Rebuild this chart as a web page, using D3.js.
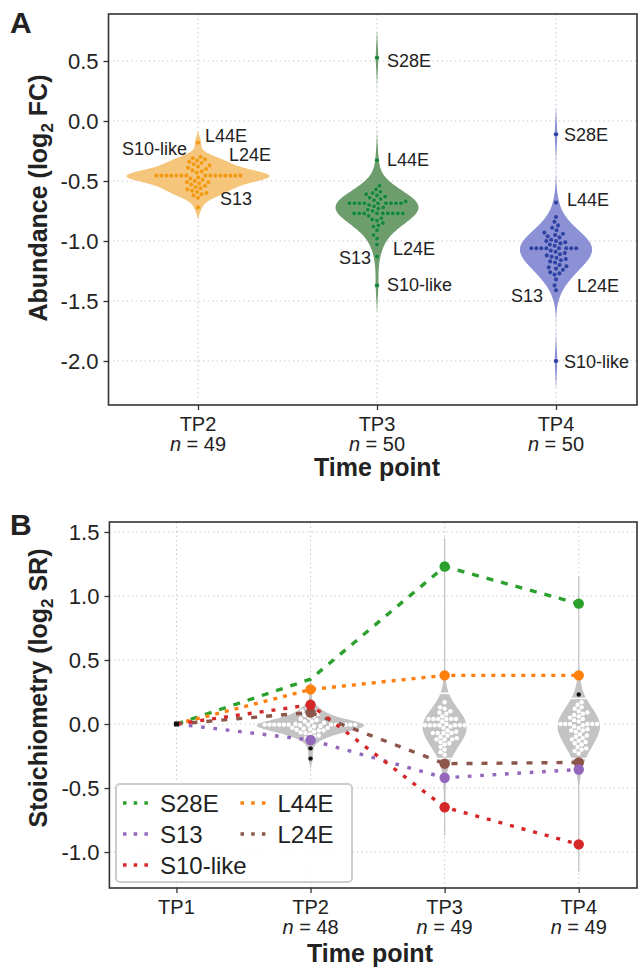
<!DOCTYPE html>
<html><head><meta charset="utf-8">
<script src="https://cdn.jsdelivr.net/npm/d3@7"></script>
<style>
body{margin:0;background:#fff}
text{font-family:"Liberation Sans",Arial,Helvetica,sans-serif;fill:#222}
</style>
</head><body>
<svg id="c" width="639" height="968"></svg>
<script>
// ---------------- DATA ----------------
// Panel A: abundance (log2 FC)
const timepointsA = ["TP2", "TP3", "TP4"];
const countsA = [49, 50, 50];
const abundanceTP2 = [-0.18, -0.30, -0.31, -0.32, -0.33, -0.34, -0.35, -0.36, -0.37, -0.38, -0.39, -0.40, -0.41, -0.42, -0.43,
  -0.455, -0.455, -0.455, -0.455, -0.455, -0.455, -0.455, -0.455, -0.455, -0.455, -0.455, -0.455, -0.455, -0.455, -0.455,
  -0.47, -0.48, -0.49, -0.50, -0.51, -0.51, -0.52, -0.53, -0.54, -0.55, -0.56, -0.57, -0.58, -0.59, -0.60, -0.61, -0.62, -0.64, -0.72];
const abundanceTP3 = [0.527, -0.328, -0.54, -0.57, -0.59, -0.60, -0.61, -0.62, -0.63, -0.64, -0.65, -0.66, -0.67,
  -0.685, -0.685, -0.685, -0.685, -0.685, -0.685, -0.685, -0.685, -0.685,
  -0.70, -0.71, -0.72, -0.73, -0.74, -0.75,
  -0.77, -0.77, -0.77, -0.77, -0.77, -0.77, -0.77, -0.77, -0.77,
  -0.79, -0.81, -0.82, -0.83, -0.85, -0.87, -0.88, -0.91, -0.95, -0.98, -1.03, -1.13, -1.37];
const abundanceTP4 = [-0.11, -0.68, -0.80, -0.84, -0.87, -0.89, -0.91, -0.93, -0.94, -0.95, -0.96, -0.97, -0.99, -1.00, -1.00, -1.01, -1.02, -1.03, -1.04,
  -1.06, -1.06, -1.06, -1.06, -1.06, -1.06, -1.06, -1.06,
  -1.08, -1.09, -1.10, -1.11, -1.12, -1.13, -1.14, -1.15, -1.16, -1.17, -1.18, -1.20, -1.21, -1.22, -1.23, -1.24, -1.26, -1.27, -1.28, -1.32,
  -1.37, -1.41, -2.00];
const yTicksA = [0.5, 0.0, -0.5, -1.0, -1.5, -2.0];
// labelled proteins in panel A
const annotTP = ["TP2", "TP2", "TP2", "TP2", "TP3", "TP3", "TP3", "TP3", "TP3", "TP4", "TP4", "TP4", "TP4", "TP4"];
const annotName = ["L44E", "S10-like", "L24E", "S13", "S28E", "L44E", "L24E", "S13", "S10-like", "S28E", "L44E", "L24E", "S13", "S10-like"];
const annotValue = [-0.18, -0.31, -0.33, -0.64, 0.527, -0.328, -1.03, -1.13, -1.37, -0.11, -0.678, -1.37, -1.41, -2.00];

// Panel B: stoichiometry (log2 SR)
const timepointsB = ["TP1", "TP2", "TP3", "TP4"];
const countsB = [null, 48, 49, 49];
const stoichTP2 = [0.27, 0.15, 0.09, -0.125, 0.12, 0.10, 0.08, 0.07, 0.06, 0.05, 0.04, 0.03, 0.02, 0.02, 0.01, 0.0,
  -0.005, -0.005, -0.005, -0.005, -0.005, -0.005, -0.005, -0.005, -0.005, -0.005, -0.005, -0.005, -0.005,
  -0.01, -0.015, -0.02, -0.03, -0.03, -0.035, -0.04, -0.045, -0.05, -0.05, -0.06, -0.065, -0.07, -0.08, -0.09, -0.10, -0.11];
const stoichTP3 = [1.23, 0.38, -0.31, -0.42, -0.65, 0.17, 0.13, 0.12, 0.10, 0.09, 0.08, 0.06,
  0.04, 0.04, 0.04, 0.04, 0.04, 0.04, 0.02, 0.01, 0.0,
  -0.01, -0.01, -0.01, -0.01, -0.01, -0.01, -0.01, -0.02,
  -0.03, -0.05, -0.06, -0.07, -0.07, -0.07, -0.07, -0.09, -0.10, -0.11, -0.12, -0.12, -0.12, -0.14, -0.15, -0.16, -0.18, -0.20, -0.22, -0.24];
const stoichTP4 = [0.94, 0.38, -0.30, -0.355, -0.94, 0.17, 0.15, 0.13, 0.12, 0.10, 0.09, 0.08, 0.07, 0.06, 0.05, 0.04, 0.03, 0.02,
  0.0, 0.0, 0.0, 0.0, 0.0, 0.0, 0.0, 0.0, 0.0,
  -0.01, -0.02, -0.03, -0.04, -0.05, -0.05, -0.06, -0.08, -0.09, -0.10, -0.11, -0.12, -0.13, -0.14, -0.15, -0.16, -0.18, -0.19, -0.20, -0.21, -0.23];
// points drawn in black (outliers) per time point
const blackTP = ["TP2", "TP2", "TP4"];
const blackValue = [-0.19, -0.27, 0.23];
// white separators across the grey violins
const breakTP = ["TP3", "TP3", "TP4", "TP4"];
const breakValue = [0.24, -0.27, 0.20, -0.27];
// protein trajectories (TP1..TP4)
const proteins = ["S28E", "S13", "S10-like", "L44E", "L24E"];
const trajS28E = [0, 0.35, 1.23, 0.94];
const trajS13 = [0, -0.125, -0.42, -0.355];
const trajS10like = [0, 0.15, -0.65, -0.94];
const trajL44E = [0, 0.27, 0.38, 0.38];
const trajL24E = [0, 0.09, -0.31, -0.30];
const hiddenMarker = [["S28E", "TP2"]];
const yTicksB = [1.5, 1.0, 0.5, 0.0, -0.5, -1.0];

// ---------------- STYLE ----------------
const colA = {TP2: {fill: "#f5c57c", dot: "#f29a12"}, TP3: {fill: "#6d9c6d", dot: "#17853a"}, TP4: {fill: "#8c90d4", dot: "#2e41a4"}};
const protColor = {"S28E": "#2ca02c", "S13": "#9467bd", "S10-like": "#d62728", "L44E": "#ff7f0e", "L24E": "#8c564b"};
const protDash = {"S28E": "7 8", "S13": "3.7 8.7", "S10-like": "4 8", "L44E": "4 6", "L24E": "6 9"};
// label layout: [dx, dy, anchor]
const annotLayout = [[7, -7, "start"], [-11, -9, "end"], [31, -6, "start"], [22, 1, "start"],
  [10, 3, "start"], [10, 0, "start"], [16, 4, "start"], [-6, 1, "end"], [10, 0, "start"],
  [8, 1, "start"], [11, -2, "start"], [21, 1, "start"], [-13, 6, "end"], [8, 1, "start"]];

const svg = d3.select("#c");
const FRAME = "#333";
const GRID = "#c9c9c9";
const FRAME_RIGHT = 637;

function scott(vals) {
  const sd = d3.deviation(vals);
  return sd * Math.pow(vals.length, -0.2);
}
function density(vals, bw, y) {
  return d3.mean(vals, v => Math.exp(-0.5 * ((y - v) / bw) ** 2)) / (bw * Math.sqrt(2 * Math.PI));
}
function kdeCurve(vals, bw, n) {
  const lo = d3.min(vals) - 2 * bw, hi = d3.max(vals) + 2 * bw;
  const pts = [];
  for (let i = 0; i <= n; i++) {
    const y = lo + (hi - lo) * i / n;
    pts.push([y, density(vals, bw, y)]);
  }
  return pts;
}
function swarm(vals, dia, yScale) {
  const pts = vals.map(v => ({v, y: yScale(v)})).sort((a, b) => b.y - a.y);
  const placed = [];
  for (const p of pts) {
    const near = placed.filter(q => Math.abs(q.y - p.y) < dia);
    const cands = [0];
    near.forEach(q => { const dx = Math.sqrt(dia * dia - (q.y - p.y) ** 2); cands.push(q.x + dx, q.x - dx); });
    cands.sort((a, b) => Math.abs(a) - Math.abs(b) || a - b);
    for (const c of cands) {
      if (near.every(q => (q.x - c) ** 2 + (q.y - p.y) ** 2 >= dia * dia - 1e-6)) { p.x = c; break; }
    }
    placed.push(p);
  }
  return placed;
}
function drawFrame(g, x0, x1, y0, y1) {
  g.append("rect").attr("x", x0).attr("y", y0).attr("width", x1 - x0).attr("height", y1 - y0)
    .attr("fill", "none").attr("stroke", FRAME).attr("stroke-width", 1.6);
}
function yLabel(g, cx, cy, main, sub, tail) {
  const t = g.append("text").attr("transform", `translate(${cx},${cy}) rotate(-90)`)
    .attr("text-anchor", "middle").attr("font-weight", "bold").attr("font-size", 25);
  t.append("tspan").text(main);
  t.append("tspan").attr("font-size", 17).attr("dy", 6).text(sub);
  t.append("tspan").attr("dy", -6).text(tail);
}
function xLabels(g, x, B, tps, counts, nOffset, titleX, titleOffset) {
  tps.forEach((tp, i) => {
    g.append("text").attr("x", x(i)).attr("y", B + 26).attr("text-anchor", "middle").attr("font-size", 20).text(tp);
    if (counts[i] !== null) {
      const t = g.append("text").attr("x", x(i)).attr("y", B + nOffset).attr("text-anchor", "middle").attr("font-size", 20);
      t.append("tspan").attr("font-style", "italic").text("n");
      t.append("tspan").text(" = " + counts[i]);
    }
  });
  g.append("text").attr("x", titleX).attr("y", B + titleOffset).attr("text-anchor", "middle")
    .attr("font-weight", "bold").attr("font-size", 25).text("Time point");
}

// ---------------- PANEL A ----------------
(function () {
  const g = svg.append("g");
  const L = 108.5, R = 645.5, T = 14, B = 405;
  const x = d3.scaleLinear().domain([-0.5, 2.5]).range([L, R]);
  const y = d3.scaleLinear().domain([-2.3667, 0.8917]).range([B, T]);
  const sets = [abundanceTP2, abundanceTP3, abundanceTP4];
  g.append("g").selectAll("line").data(yTicksA).join("line")
    .attr("x1", L).attr("x2", FRAME_RIGHT).attr("y1", d => y(d)).attr("y2", d => y(d))
    .attr("stroke", GRID).attr("stroke-width", 1).attr("stroke-dasharray", "1.5 3");
  g.append("g").selectAll("line").data(timepointsA).join("line")
    .attr("x1", (d, i) => x(i)).attr("x2", (d, i) => x(i)).attr("y1", T).attr("y2", B)
    .attr("stroke", GRID).attr("stroke-width", 1).attr("stroke-dasharray", "1.5 3");
  const curves = sets.map(v => kdeCurve(v, scott(v), 300));
  const maxD = d3.max(curves, c => d3.max(c, p => p[1]));
  const wScale = d3.scaleLinear().domain([0, maxD]).range([0, 0.4 * (x(1) - x(0))]);
  curves.forEach((c, i) => {
    const area = d3.area().curve(d3.curveBasis)
      .y(p => y(p[0])).x0(p => x(i) - wScale(p[1])).x1(p => x(i) + wScale(p[1]));
    g.append("path").attr("d", area(c)).attr("fill", colA[timepointsA[i]].fill).attr("stroke", "none");
  });
  sets.forEach((v, i) => {
    const pts = swarm(v, 5, y);
    g.append("g").selectAll("circle").data(pts).join("circle")
      .attr("cx", p => x(i) + p.x).attr("cy", p => p.y).attr("r", 2.3)
      .attr("fill", colA[timepointsA[i]].dot).attr("stroke", "#ffffff").attr("stroke-opacity", 0.35).attr("stroke-width", 0.5);
  });
  annotName.forEach((nm, k) => {
    const i = timepointsA.indexOf(annotTP[k]);
    const [dx, dy, anc] = annotLayout[k];
    g.append("text").attr("x", x(i) + dx).attr("y", y(annotValue[k]) + dy)
      .attr("dominant-baseline", "central").attr("text-anchor", anc).attr("font-size", 18).text(nm);
  });
  const ya = g.append("g").attr("transform", `translate(${L},0)`)
    .call(d3.axisLeft(y).tickValues(yTicksA).tickFormat(d3.format(".1f")).tickSize(5).tickPadding(5));
  ya.select(".domain").remove();
  ya.selectAll("line").attr("stroke", FRAME).attr("stroke-width", 1.3);
  ya.selectAll("text").attr("font-size", 22).attr("fill", "#222").attr("font-family", "Liberation Sans, Arial, sans-serif")
    .text(d => d3.format(".1f")(d).replace("−", "-"));
  const xa = g.append("g").attr("transform", `translate(0,${B})`)
    .call(d3.axisBottom(x).tickValues([0, 1, 2]).tickFormat("").tickSize(5));
  xa.select(".domain").remove();
  xa.selectAll("line").attr("stroke", FRAME).attr("stroke-width", 1.3);
  xLabels(g, x, B, timepointsA, countsA, 46, 377, 71);
  yLabel(g, 47, 198, "Abundance (log", "2", " FC)");
  drawFrame(g, L, FRAME_RIGHT, T, B);
  g.append("text").attr("x", 10).attr("y", 33).attr("font-weight", "bold").attr("font-size", 30).text("A");
})();

// ---------------- PANEL B ----------------
(function () {
  const g = svg.append("g");
  const L = 109.4, R = 645.8, T = 522, B = 888;
  const x = d3.scaleLinear().domain([-0.5, 3.5]).range([L, R]);
  const y = d3.scaleLinear().domain([-1.281, 1.578]).range([B, T]);
  g.append("g").selectAll("line").data(yTicksB).join("line")
    .attr("x1", L).attr("x2", FRAME_RIGHT).attr("y1", d => y(d)).attr("y2", d => y(d))
    .attr("stroke", GRID).attr("stroke-width", 1).attr("stroke-dasharray", "1.5 3");
  g.append("g").selectAll("line").data(timepointsB).join("line")
    .attr("x1", (d, i) => x(i)).attr("x2", (d, i) => x(i)).attr("y1", T).attr("y2", B)
    .attr("stroke", GRID).attr("stroke-width", 1).attr("stroke-dasharray", "1.5 3");
  const sets = {TP2: stoichTP2, TP3: stoichTP3, TP4: stoichTP4};
  const allSets = {};
  Object.keys(sets).forEach(tp => {
    allSets[tp] = sets[tp].concat(blackValue.filter((v, k) => blackTP[k] === tp));
  });
  const keys = ["TP2", "TP3", "TP4"];
  const bws = keys.map(tp => scott(allSets[tp]));
  const curves = keys.map((tp, k) => kdeCurve(allSets[tp], bws[k], 400));
  const maxD = d3.max(curves, c => d3.max(c, p => p[1]));
  const wScale = d3.scaleLinear().domain([0, maxD]).range([0, 0.4 * (x(1) - x(0))]);
  curves.forEach((c, k) => {
    const i = timepointsB.indexOf(keys[k]);
    const area = d3.area().curve(d3.curveBasis)
      .y(p => y(p[0])).x0(p => x(i) - Math.max(0.6, wScale(p[1]))).x1(p => x(i) + Math.max(0.6, wScale(p[1])));
    g.append("path").attr("d", area(c)).attr("fill", "#c3c3c3").attr("stroke", "none");
  });
  breakValue.forEach((v, k) => {
    const kk = keys.indexOf(breakTP[k]);
    const i = timepointsB.indexOf(breakTP[k]);
    const w = wScale(density(allSets[breakTP[k]], bws[kk], v)) + 1;
    g.append("line").attr("x1", x(i) - w).attr("x2", x(i) + w).attr("y1", y(v)).attr("y2", y(v))
      .attr("stroke", "#fff").attr("stroke-width", 1.6);
  });
  keys.forEach(tp => {
    const i = timepointsB.indexOf(tp);
    const pts = swarm(sets[tp], 4.8, y);
    g.append("g").selectAll("circle").data(pts).join("circle")
      .attr("cx", p => x(i) + p.x).attr("cy", p => p.y).attr("r", 2.2).attr("fill", "#fff");
  });
  blackValue.forEach((v, k) => {
    const i = timepointsB.indexOf(blackTP[k]);
    g.append("circle").attr("cx", x(i)).attr("cy", y(v)).attr("r", 2.2).attr("fill", "#111");
  });
  const trajs = {"S28E": trajS28E, "S13": trajS13, "S10-like": trajS10like, "L44E": trajL44E, "L24E": trajL24E};
  const drawOrder = ["S28E", "L44E", "L24E", "S13", "S10-like"];
  const line = d3.line().x((d, i) => x(i)).y(d => y(d));
  drawOrder.forEach(p => {
    g.append("path").attr("d", line(trajs[p])).attr("fill", "none").attr("stroke", protColor[p])
      .attr("stroke-width", 3.4).attr("stroke-dasharray", protDash[p]);
  });
  drawOrder.forEach(p => {
    trajs[p].forEach((v, i) => {
      if (i === 0) return;
      if (hiddenMarker.some(h => h[0] === p && h[1] === timepointsB[i])) return;
      g.append("circle").attr("cx", x(i)).attr("cy", y(v)).attr("r", 5.2).attr("fill", protColor[p]);
    });
  });
  g.append("rect").attr("x", x(0) - 2.5).attr("y", y(0) - 2.5).attr("width", 5).attr("height", 5).attr("fill", "#111");
  const lg = g.append("g");
  lg.append("rect").attr("x", 116).attr("y", 784).attr("width", 236).attr("height", 98).attr("rx", 4)
    .attr("fill", "#fff").attr("fill-opacity", 0.85).attr("stroke", "#cccccc").attr("stroke-width", 2);
  proteins.forEach((p, k) => {
    const col = Math.floor(k / 3), row = k % 3;
    const lx = 123 + col * 117.5, ly = 803 + row * 31;
    lg.append("line").attr("x1", lx).attr("x2", lx + 29).attr("y1", ly).attr("y2", ly)
      .attr("stroke", protColor[p]).attr("stroke-width", 3.4).attr("stroke-dasharray", "3.5 7.2");
    lg.append("text").attr("x", lx + 37).attr("y", ly).attr("dominant-baseline", "central")
      .attr("font-size", 24).text(p);
  });
  const ya = g.append("g").attr("transform", `translate(${L},0)`)
    .call(d3.axisLeft(y).tickValues(yTicksB).tickSize(5).tickPadding(5));
  ya.select(".domain").remove();
  ya.selectAll("line").attr("stroke", FRAME).attr("stroke-width", 1.3);
  ya.selectAll("text").attr("font-size", 22).attr("fill", "#222").attr("font-family", "Liberation Sans, Arial, sans-serif")
    .text(d => d3.format(".1f")(d).replace("−", "-"));
  const xa = g.append("g").attr("transform", `translate(0,${B})`)
    .call(d3.axisBottom(x).tickValues([0, 1, 2, 3]).tickFormat("").tickSize(5));
  xa.select(".domain").remove();
  xa.selectAll("line").attr("stroke", FRAME).attr("stroke-width", 1.3);
  xLabels(g, x, B, timepointsB, countsB, 46, 370, 74);
  yLabel(g, 47, 688, "Stoichiometry (log", "2", " SR)");
  drawFrame(g, L, FRAME_RIGHT, T, B);
  g.append("text").attr("x", 10).attr("y", 535).attr("font-weight", "bold").attr("font-size", 30).text("B");
})();
</script>
</body></html>
